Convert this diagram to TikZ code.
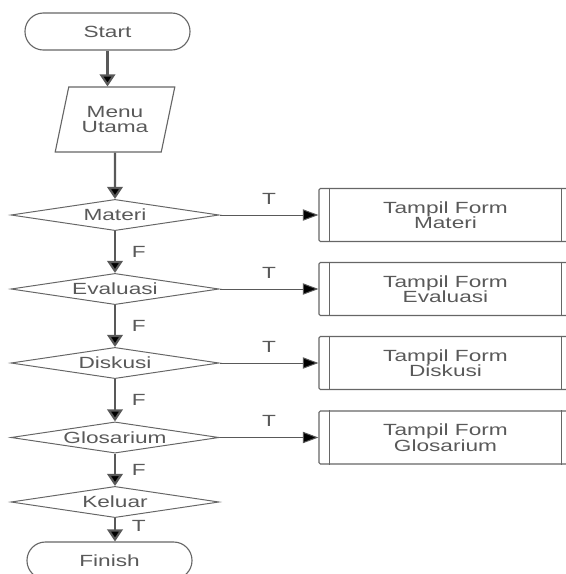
\documentclass[tikz,border=0pt]{standalone}
\usepackage{fontspec}
\newfontfamily\flowfont[FakeStretch=1.4]{Liberation Sans}
\usetikzlibrary{arrows.meta,shapes.geometric}

\begin{document}
\begin{tikzpicture}[x=0.025cm,y=-0.025cm,
  font=\flowfont\fontsize{11.5}{11}\selectfont,
  every node/.style={text=black!65},
  terminal/.style={draw=black!60,line width=0.8pt,rectangle,rounded corners=0.46cm,
    minimum width=4.125cm,minimum height=0.925cm},
  menubox/.style={draw=black!60,line width=0.8pt,trapezium,trapezium left angle=71,
    trapezium right angle=109,trapezium stretches=true,minimum width=3cm,
    minimum height=1.625cm,align=center,inner sep=1pt},
  decision/.style={draw=black!60,line width=0.7pt,diamond,aspect=7,inner sep=0pt,
    minimum width=5.2cm,minimum height=0.78cm},
  formbox/.style={draw=black!60,line width=0.8pt,rectangle,rounded corners=1pt,
    minimum width=6.325cm,minimum height=1.325cm,align=center},
  down/.style={draw=black!65,line width=1.5pt,-{Triangle[length=8.5pt,width=11pt,fill=black]}},
  toform/.style={draw=black!65,line width=0.7pt,-{Triangle[length=11pt,width=8pt,fill=black]}},
  flag/.style={right=8pt}]
  \clip (0,0) rectangle (566,574);
  \useasboundingbox (0,0) rectangle (566,574);

  % main column
  \node[terminal] (start) at (107.5,31.5) {Start};
  \node[menubox] (menu) at (115,119.5) {Menu\\Utama};
  \node[decision] (kel) at (115,502) {Keluar};
  \node[terminal] (fin) at (109.5,560.5) {Finish};

  % menu choices and their forms
  \foreach \n/\lab/\y in {mat/Materi/215,eva/Evaluasi/289,dis/Diskusi/363,glo/Glosarium/437.5}{
    \node[decision] (\n) at (115,\y) {\lab};
    \node[formbox] (f\n) at (445.5,\y) {Tampil Form\\\lab};
    \draw[black!60,line width=0.8pt] ([xshift=0.275cm]f\n.north west) -- ([xshift=0.275cm]f\n.south west);
    \draw[black!60,line width=0.8pt] ([xshift=-0.275cm]f\n.north east) -- ([xshift=-0.275cm]f\n.south east);
    \draw[toform] (\n) -- node[above=4pt] {T} (f\n);
  }

  \draw[down] (start) -- (start |- menu.north);
  \draw[down] (menu) -- (mat);
  \foreach \a/\b in {mat/eva,eva/dis,dis/glo,glo/kel}{
    \draw[down] (\a) -- node[flag] {F} (\b);
  }
  \draw[down] (kel.south) -- node[flag,pos=0.35] {T} (kel.south |- fin.north);
\end{tikzpicture}
\end{document}
